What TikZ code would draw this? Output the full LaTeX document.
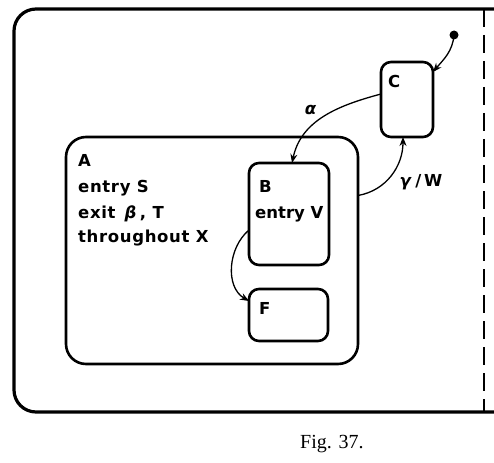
\documentclass[tikz,border=0pt]{standalone}
\usepackage{fontspec}
\setmainfont{DejaVu Sans}[LetterSpace=4]
\newfontfamily\capfont{Liberation Serif}
\usetikzlibrary{arrows.meta}
\begin{document}
\begin{tikzpicture}[x=1pt,y=1pt,
  box/.style={draw, line width=2.6pt, rounded corners=#1, inner sep=0pt, outer sep=0pt},
  box/.default=10pt,
  lbl/.style={inner sep=0pt, anchor=base west, font=\fontsize{16.5}{20}\selectfont\bfseries},
  trans/.style={line width=1.3pt, -{Stealth[length=9pt,width=7pt]}},
]
\useasboundingbox (0,0) rectangle (494,-462);
% outer state (open to the right)
\draw[line width=3.2pt, rounded corners=22pt] (494,-9) -- (14,-9) -- (14,-412) -- (494,-412);
\draw[line width=2.4pt, dash pattern=on 18pt off 8pt] (484,-9) -- (484,-412);
% states
\node[box=20pt, minimum width=292pt, minimum height=227pt] (A) at (212,-250.5) {};
\node[box, minimum width=80pt, minimum height=102pt] (B) at (289,-214) {};
\node[box, minimum width=79pt, minimum height=52pt] (F) at (288.5,-315) {};
\node[box, minimum width=52pt, minimum height=75pt] (C) at (407,-99.5) {};
% labels
\node[lbl] (tA) at (78,-167) {A};
\node[lbl] (tAen) at (78,-193) {entry S};
\node[lbl] (tAex) at (78,-218) {exit \,\textit{β}\,, T};
\node[lbl] (tAth) at (78,-242) {throughout X};
\node[lbl] (tB) at (259,-193) {B};
\node[lbl] (tBen) at (255,-218) {\addfontfeature{LetterSpace=0}entry V};
\node[lbl] (tF) at (259,-314) {F};
\node[lbl] (tC) at (388,-88) {C};
% initial
\fill (454,-35) circle (4.5pt);
\coordinate (init) at (454,-35);
% transitions
\draw[trans] (init) to[out=265, in=50] ([yshift=-10pt]C.north east);
\draw[trans] ([yshift=5.5pt]C.west) to[out=195, in=78] ([xshift=3pt]B.north);
\draw[trans] ([yshift=55pt]A.east) to[out=10, in=270] ([xshift=-4pt]C.south);
\draw[trans] ([yshift=-16pt]B.west) to[out=220, in=150] ([yshift=14pt]F.west);
\node[lbl, anchor=center] (alpha) at (311,-110) {\textit{α}};
\node[lbl, anchor=center] (gw) at (421,-182) {\textit{γ}\,/\,W};
\node[inner sep=0pt, anchor=base west, font=\capfont\fontsize{20}{24}\selectfont] (cap) at (300,-448) {Fig. 37.};
\end{tikzpicture}
\end{document}
